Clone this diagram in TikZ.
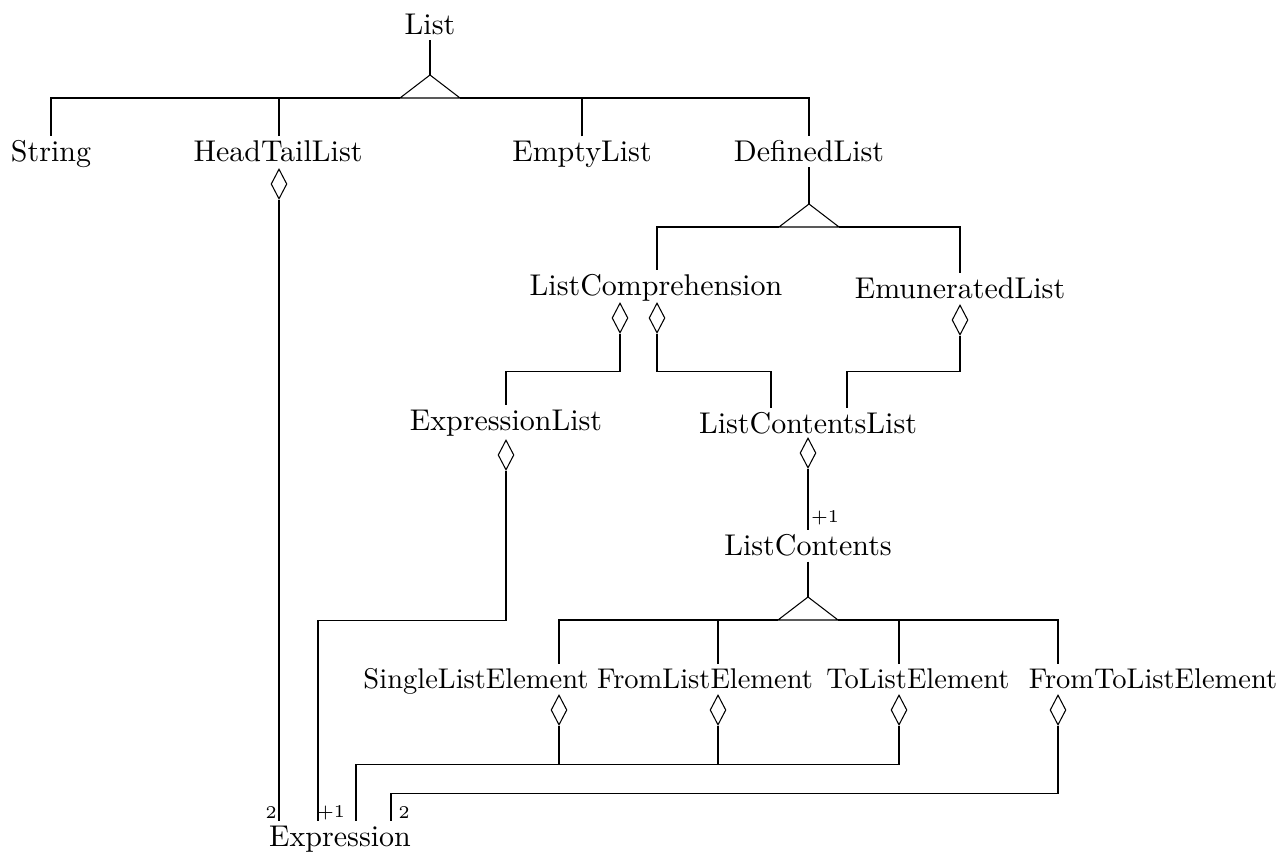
\documentclass[tikz,border=0pt]{standalone}
\usepackage{tikz}
\usetikzlibrary{shapes.geometric,calc}
\newcommand{\isa}[2]{
  \coordinate (#1) at (#2);
  \draw (#1) -- ++(-30,23) coordinate (#1L) -- ++(60,0) coordinate (#1R) -- cycle;
}
\begin{document}
\begin{tikzpicture}[x=0.3333pt,y=-0.3333pt,line width=0.35pt]
\tikzstyle{cls}=[inner sep=1.5pt,anchor=base]
\tikzstyle{elem}=[cls,font=\fontsize{9.5}{11}\selectfont]
\tikzstyle{agg}=[draw,diamond,inner sep=0pt,minimum width=5.3pt,minimum height=10pt]
\tikzstyle{mult}=[inner sep=0pt,font=\fontsize{6}{7}\selectfont]

\useasboundingbox (0,0) rectangle (1286,854);

\node[cls] (list) at (430,35) {List};
\node[cls] (string) at (51,162) {String};
\node[cls] (headtail) at (278,162) {HeadTailList};
\node[cls] (empty) at (582,162) {EmptyList};
\node[cls] (defined) at (809,162) {DefinedList};
\node[cls] (listcomp) at (656,296) {ListComprehension};
\node[cls] (enumerated) at (960,299) {EmuneratedList};
\node[cls] (exprlist) at (506,431) {ExpressionList};
\node[cls] (contentslist) at (808,434) {ListContentsList};
\node[cls] (contents) at (808,556) {ListContents};
\node[elem] (single) at (476,689) {SingleListElement};
\node[elem] (fromel) at (705,689) {FromListElement};
\node[elem] (toel) at (918,689) {ToListElement};
\node[elem] (fromto) at (1153,689) {FromToListElement};
\node[cls] (expr) at (340,846) {Expression};

% aggregation
\node[agg] (headtailD) at (279,184) {};
\node[agg] (lcD1) at (620,318) {};
\node[agg] (lcD2) at (657,318) {};
\node[agg] (enumD) at (960,320) {};
\node[agg] (exprlistD) at (506,455) {};
\node[agg] (contentslistD) at (808,453) {};
\node[agg] (singleD) at (559,710) {};
\node[agg] (fromelD) at (718,710) {};
\node[agg] (toelD) at (899,710) {};
\node[agg] (fromtoD) at (1058,710) {};

% generalisation
\isa{listT}{430,75}
\isa{defT}{809,204}
\isa{contT}{808,597}

\draw (list) -- (listT);
\draw (string.north) |- (listTL);
\draw (listTR) -| (defined.north);
\draw (headtail.north -| headtailD) -- (headtailD |- listTL);
\draw (empty.north) -- (empty.north |- listTL);

\draw (defined) -- (defT);
\draw (listcomp.north -| lcD2) |- (defTL);
\draw (defTR) -| (enumerated.north -| enumD);

\draw (contents) -- (contT);
\draw (single.north -| singleD) |- (contTL);
\draw (contTR) -| (fromto.north -| fromtoD);
\draw (fromel.north -| fromelD) -- (fromelD |- contTL);
\draw (toel.north -| toelD) -- (toelD |- contTL);

\draw (lcD1.south) -- ++(0,38) -| (exprlist.north);
\draw (lcD2.south) -- ++(0,38) -| ($(contentslist.north)+(-37,0)$);
\draw (enumD.south) -- ++(0,36) -| ($(contentslist.north)+(39,0)$);
\draw (contentslistD) -- (contents);
\draw (headtailD) -- (expr.north -| headtailD);
\draw (exprlistD.south) -- ++(0,150) -| ($(expr.north)+(-22,0)$);
\draw (singleD.south) -- ++(0,39) -| ($(expr.north)+(16,0)$);
\draw (fromelD.south) -- ++(0,39);
\draw (toelD.south) |- ($(singleD.south)+(0,39)$);
\draw (fromtoD.south) -- ++(0,68) -| ($(expr.north)+(51,0)$);

\node[mult] (m1) at (825,518) {$+1$};
\node[mult] (m2) at (271,813) {2};
\node[mult] (m3) at (331,813) {$+1$};
\node[mult] (m4) at (404,813) {2};
\end{tikzpicture}
\end{document}
